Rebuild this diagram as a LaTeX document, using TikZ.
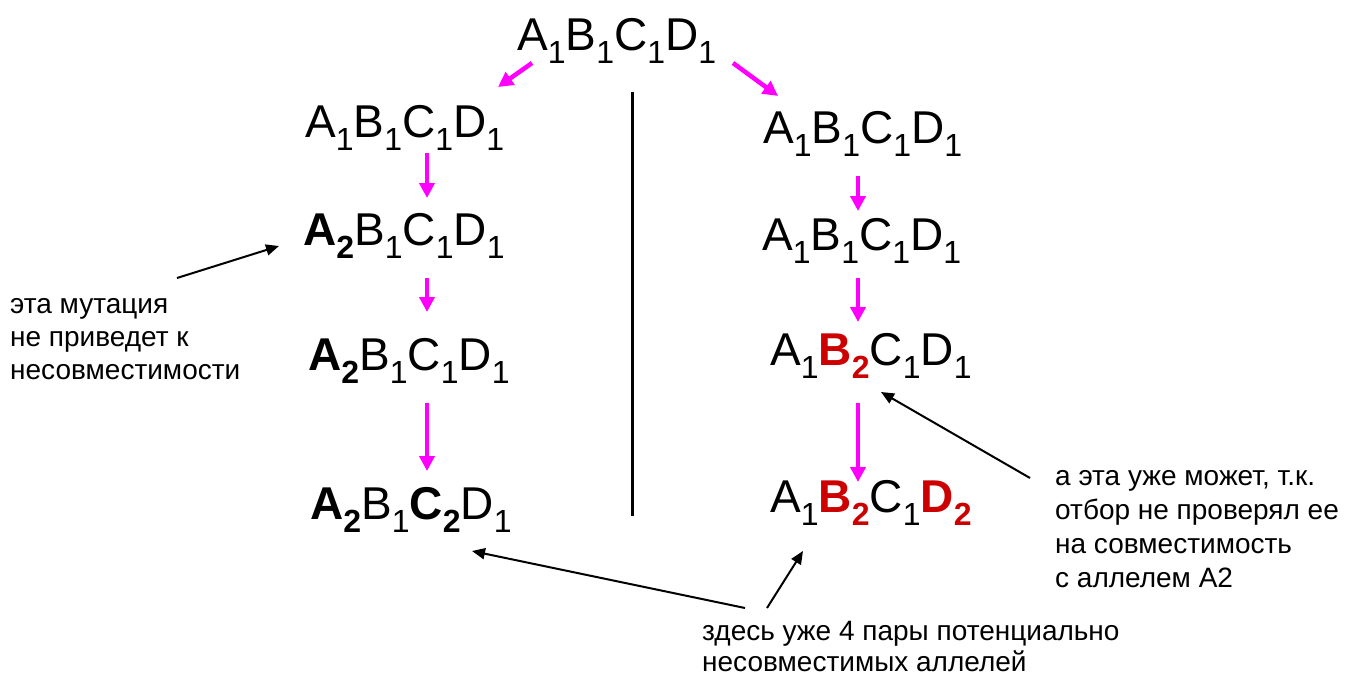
\documentclass[tikz,border=0pt]{standalone}
\usepackage{fontspec}
\setmainfont{Liberation Sans}
\usetikzlibrary{arrows.meta}
\definecolor{gred}{RGB}{204,0,0}
\definecolor{mag}{RGB}{255,0,255}
\newcommand\al[2]{#1\raisebox{-0.3em}{\fontsize{32}{32}\selectfont #2}}
\newcommand\bl[2]{\textbf{#1}\raisebox{-0.3em}{\fontsize{32}{32}\selectfont\bfseries #2}}
\begin{document}
\begin{tikzpicture}[x=1pt,y=-1pt,
  geno/.style={anchor=base west,inner sep=0pt,font=\fontsize{46}{46}\selectfont},
  note/.style={anchor=base west,inner sep=0pt,align=left,font=\fontsize{28}{34}\selectfont},
  marrow/.style={draw=mag,line width=4.5pt,-{Triangle[length=15pt,width=15pt]}},
  barrow/.style={draw=black,line width=2pt,-{Triangle[length=13pt,width=11pt]}}]
\fill[white] (0,0) rectangle (1345,678);
\useasboundingbox (0,0) rectangle (1345,678);
% genotypes
\node[geno] (T) at (517,50) {\al{A}{1}\al{B}{1}\al{C}{1}\al{D}{1}};
\node[geno] (L1) at (305,137) {\al{A}{1}\al{B}{1}\al{C}{1}\al{D}{1}};
\node[geno] (L2) at (303,245) {\bl{A}{2}\al{B}{1}\al{C}{1}\al{D}{1}};
\node[geno] (L3) at (308,370) {\bl{A}{2}\al{B}{1}\al{C}{1}\al{D}{1}};
\node[geno] (L4) at (310,519) {\bl{A}{2}\al{B}{1}\bl{C}{2}\al{D}{1}};
\node[geno] (R1) at (763,143) {\al{A}{1}\al{B}{1}\al{C}{1}\al{D}{1}};
\node[geno] (R2) at (762,250) {\al{A}{1}\al{B}{1}\al{C}{1}\al{D}{1}};
\node[geno] (R3) at (770,365) {\al{A}{1}\textcolor{gred}{\bl{B}{2}}\al{C}{1}\al{D}{1}};
\node[geno] (R4) at (770,512) {\al{A}{1}\textcolor{gred}{\bl{B}{2}}\al{C}{1}\textcolor{gred}{\bl{D}{2}}};
% divider
\coordinate (vt) at (632,92);
\coordinate (vb) at (632,516);
\draw[line width=3pt] (vt) -- (vb);
% magenta arrows
\coordinate (m0s) at (532,63); \coordinate (m0e) at (498,87);
\coordinate (m1s) at (733,63); \coordinate (m1e) at (778,96);
\coordinate (a1s) at (427,153); \coordinate (a1e) at (427,198);
\coordinate (a2s) at (427,278); \coordinate (a2e) at (427,312);
\coordinate (a3s) at (427,403); \coordinate (a3e) at (427,471);
\coordinate (b1s) at (858,176); \coordinate (b1e) at (858,211);
\coordinate (b2s) at (858,278); \coordinate (b2e) at (858,322);
\coordinate (b3s) at (858,403); \coordinate (b3e) at (858,482);
\draw[marrow] (m0s) -- (m0e);
\draw[marrow] (m1s) -- (m1e);
\draw[marrow] (a1s) -- (a1e);
\draw[marrow] (a2s) -- (a2e);
\draw[marrow] (a3s) -- (a3e);
\draw[marrow] (b1s) -- (b1e);
\draw[marrow] (b2s) -- (b2e);
\draw[marrow] (b3s) -- (b3e);
% notes (base anchor = last line)
\node[note,font=\fontsize{28}{33}\selectfont] (N1) at (10,379) {эта мутация\\не приведет к\\несовместимости};
\node[note] (N2) at (1055,587) {а эта уже может, т.к.\\отбор не проверял ее\\на совместимость\\с аллелем А2};
\node[note,font=\fontsize{28}{31}\selectfont] (N3) at (702,671) {здесь уже 4 пары потенциально\\несовместимых аллелей};
% black arrows
\coordinate (k1s) at (177,278); \coordinate (k1e) at (279,246);
\coordinate (k2s) at (1030,478); \coordinate (k2e) at (881,392);
\coordinate (k3s) at (745,608); \coordinate (k3e) at (472,551);
\coordinate (k4s) at (767,608); \coordinate (k4e) at (803,551);
\draw[barrow] (k1s) -- (k1e);
\draw[barrow] (k2s) -- (k2e);
\draw[barrow] (k3s) -- (k3e);
\draw[barrow] (k4s) -- (k4e);
\end{tikzpicture}
\end{document}
